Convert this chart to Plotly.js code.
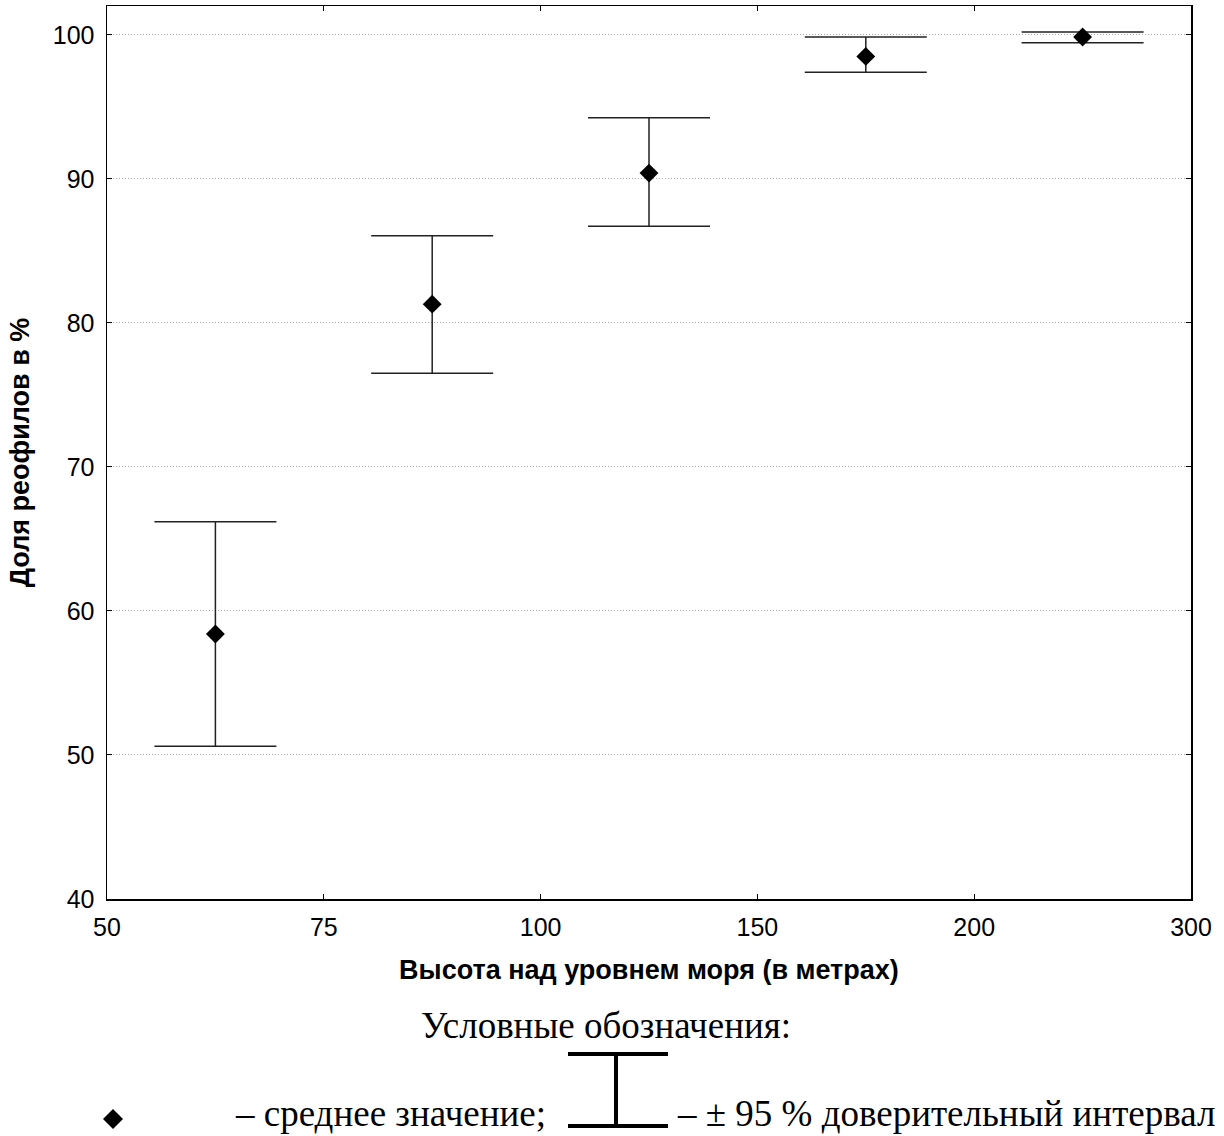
<!DOCTYPE html>
<html>
<head>
<meta charset="utf-8">
<script src="https://cdn.plot.ly/plotly-3.0.1.min.js"></script>
<style>html,body{margin:0;padding:0;background:#fff}#chart{width:1224px;height:1136px}</style>
</head>
<body>
<div id="chart"></div>
<script>
// Tick labels of the height axis (bin edges, equally spaced)
const tickLabels = ['50', '75', '100', '150', '200', '300'];
// Height bins (between consecutive ticks)
const bins = ['50–75', '75–100', '100–150', '150–200', '200–300'];
// Mean share of rheophiles, %
const meanVals = [58.4, 81.3, 90.4, 98.5, 99.85];
// Upper and lower 95% confidence limits, %
const upperVals = [66.2, 86.05, 94.25, 99.85, 100.2];
const lowerVals = [50.6, 76.5, 86.7, 97.4, 99.45];

const W = 1224, H = 1136;
const L = 107, R = 1191, T = 6, B = 899;
const PW = R - L, PH = B - T;
const px = x => (x - L) / PW;
const py = y => (B - y) / PH;

const xs = bins.map((b, i) => i + 0.5);

const trace = {
  type: 'scatter', mode: 'markers',
  x: xs, y: meanVals,
  marker: {symbol: 'diamond', size: 14.5, color: '#000'},
  error_y: {
    type: 'data', symmetric: false,
    array: upperVals.map((u, i) => u - meanVals[i]),
    arrayminus: meanVals.map((m, i) => m - lowerVals[i]),
    color: '#222', thickness: 1.5, width: 61
  },
  showlegend: false, hoverinfo: 'x+y'
};

const serif = '"Liberation Serif", "Times New Roman", serif';
const sans = '"Liberation Sans", Arial, sans-serif';

const shapes = [
  // legend diamond
  {type: 'path', xref: 'paper', yref: 'paper',
   path: `M ${px(103)} ${py(1119)} L ${px(113)} ${py(1109)} L ${px(123)} ${py(1119)} L ${px(113)} ${py(1129)} Z`,
   fillcolor: '#000', line: {width: 0}},
  // legend I-bar
  {type: 'line', xref: 'paper', yref: 'paper', x0: px(568), x1: px(668), y0: py(1054), y1: py(1054), line: {color: '#000', width: 4}},
  {type: 'line', xref: 'paper', yref: 'paper', x0: px(568), x1: px(668), y0: py(1126), y1: py(1126), line: {color: '#000', width: 4}},
  {type: 'line', xref: 'paper', yref: 'paper', x0: px(616), x1: px(616), y0: py(1054), y1: py(1126), line: {color: '#000', width: 4}}
];

const annotations = [
  {xref: 'paper', yref: 'paper', x: px(606), y: py(1025), xanchor: 'center', yanchor: 'middle',
   text: 'Условные обозначения:', showarrow: false, font: {family: serif, size: 37, color: '#000'}},
  {xref: 'paper', yref: 'paper', x: px(233), y: py(1113), xanchor: 'left', yanchor: 'middle',
   text: '– среднее значение;', showarrow: false, font: {family: serif, size: 37, color: '#000'}},
  {xref: 'paper', yref: 'paper', x: px(675), y: py(1113), xanchor: 'left', yanchor: 'middle',
   text: '– ± 95 % доверительный интервал', showarrow: false, font: {family: serif, size: 37, color: '#000'}}
];

const layout = {
  width: W, height: H,
  margin: {l: L, r: W - R, t: T, b: H - B, pad: 0},
  paper_bgcolor: '#fff', plot_bgcolor: '#fff',
  font: {family: sans, color: '#000'},
  xaxis: {
    range: [0, tickLabels.length - 1],
    tickvals: tickLabels.map((t, i) => i), ticktext: tickLabels,
    showgrid: false, zeroline: false,
    showline: true, linecolor: '#000', linewidth: 1.5, mirror: 'allticks',
    ticks: 'inside', ticklen: 5, tickwidth: 1, tickcolor: '#000',
    tickfont: {family: sans, size: 25, color: '#000'},
    ticklabelstandoff: 5,
    title: {text: 'Высота над уровнем моря (в метрах)', font: {family: sans, size: 27, color: '#000', weight: 'bold'}, standoff: 20},
    automargin: false, fixedrange: true
  },
  yaxis: {
    range: [40, 102], tickvals: [40, 50, 60, 70, 80, 90, 100],
    showgrid: true, gridcolor: '#a8a8a8', gridwidth: 1, griddash: '1px,2px',
    zeroline: false,
    showline: true, linecolor: '#000', linewidth: 1.5, mirror: 'allticks',
    ticks: 'inside', ticklen: 5, tickwidth: 1, tickcolor: '#000',
    tickfont: {family: sans, size: 25, color: '#000'},
    ticklabelstandoff: 6,
    title: {text: 'Доля реофилов в %', font: {family: sans, size: 27, color: '#000', weight: 'bold'}, standoff: 15},
    automargin: false, fixedrange: true
  },
  shapes: shapes,
  annotations: annotations
};

Plotly.newPlot('chart', [trace], layout, {displayModeBar: false, staticPlot: true});
</script>
</body>
</html>
